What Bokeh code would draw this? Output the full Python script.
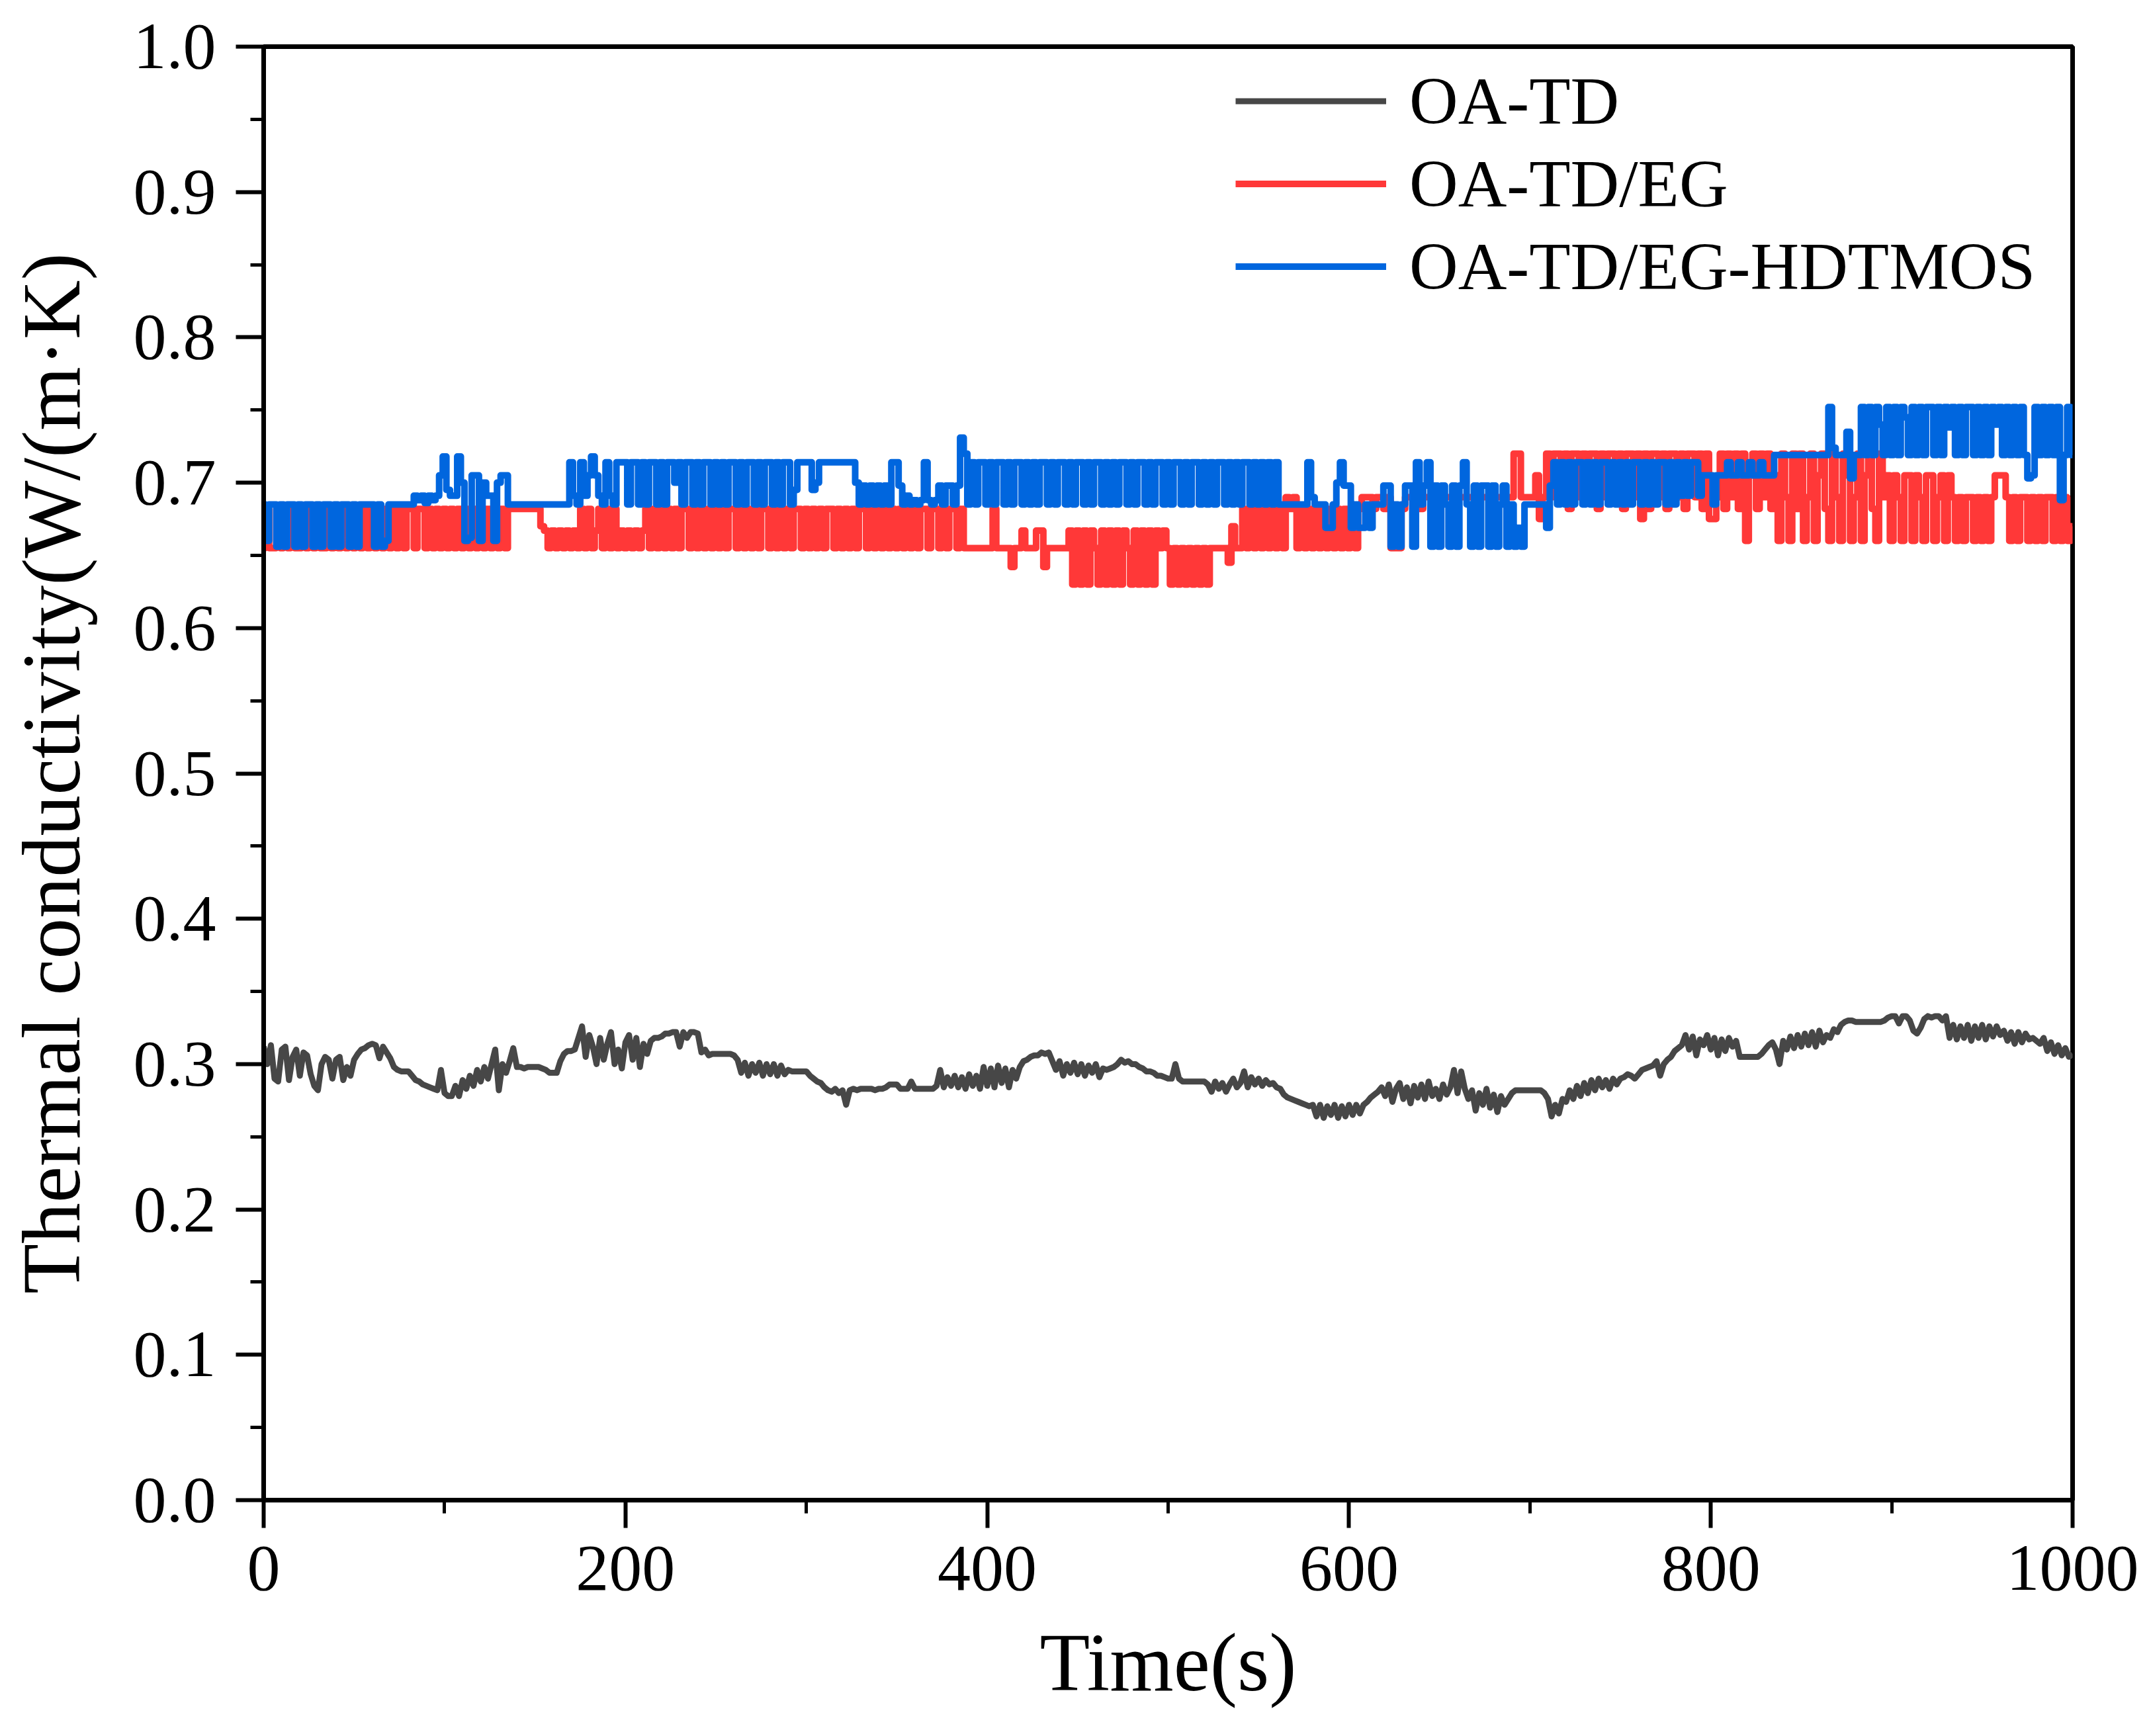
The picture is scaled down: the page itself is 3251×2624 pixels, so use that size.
from bokeh.plotting import figure
from bokeh.models import Range1d, FixedTicker, NumeralTickFormatter, Legend, LegendItem
from bokeh.embed import file_html
from bokeh.resources import INLINE

x_ticks = [0, 200, 400, 600, 800, 1000]
x_minor = [100, 300, 500, 700, 900]
y_ticks = [0.0, 0.1, 0.2, 0.3, 0.4, 0.5, 0.6, 0.7, 0.8, 0.9, 1.0]
y_minor = [0.05, 0.15, 0.25, 0.35, 0.45, 0.55, 0.65, 0.75, 0.85, 0.95]
series_names = ["OA-TD", "OA-TD/EG", "OA-TD/EG-HDTMOS"]
sample_step_s = 2

oa_td_mW = [
    312, 300, 313, 290, 288, 310, 312, 289, 305, 310, 292, 308, 306, 293, 285, 282, 300, 305, 303, 290, 303, 305, 289, 298, 292,
    303, 307, 310, 311, 313, 314, 313, 304, 312, 308, 304, 298, 296, 295, 295, 295, 292, 289, 288, 286, 285, 284, 283, 282, 296,
    280, 278, 278, 285, 278, 289, 283, 292, 285, 296, 288, 298, 290, 300, 310, 282, 300, 294, 302, 311, 298, 298, 297, 298, 298,
    298, 298, 297, 296, 294, 294, 294, 302, 307, 309, 309, 310, 318, 326, 305, 320, 312, 300, 318, 303, 314, 322, 300, 310, 297,
    315, 320, 303, 318, 298, 314, 307, 316, 318, 318, 319, 321, 321, 322, 322, 312, 322, 318, 322, 322, 321, 308, 310, 306, 307,
    307, 307, 307, 307, 307, 306, 303, 294, 301, 292, 300, 294, 301, 292, 300, 293, 300, 292, 299, 293, 296, 295, 295, 295, 295,
    295, 292, 290, 288, 287, 284, 282, 281, 283, 280, 282, 272, 282, 283, 282, 283, 283, 283, 283, 282, 283, 283, 284, 286, 286,
    286, 283, 283, 283, 288, 283, 283, 283, 283, 283, 283, 285, 296, 284, 291, 285, 292, 284, 291, 283, 293, 285, 292, 283, 298,
    285, 297, 284, 299, 287, 297, 284, 296, 290, 298, 302, 303, 305, 306, 306, 308, 307, 308, 302, 296, 302, 292, 300, 294, 301,
    293, 300, 292, 299, 294, 300, 291, 297, 296, 297, 298, 300, 303, 301, 302, 300, 300, 298, 297, 295, 295, 294, 292, 292, 291,
    290, 290, 300, 290, 288, 288, 288, 288, 288, 288, 288, 286, 281, 288, 283, 287, 281, 286, 290, 284, 287, 295, 284, 291, 286,
    290, 285, 289, 286, 287, 284, 283, 279, 277, 276, 275, 274, 273, 272, 271, 272, 264, 272, 263, 271, 265, 272, 263, 271, 264,
    272, 265, 272, 266, 272, 274, 277, 279, 281, 284, 278, 286, 274, 283, 287, 276, 284, 273, 285, 277, 286, 276, 288, 278, 283,
    276, 286, 279, 284, 296, 280, 295, 283, 276, 282, 268, 280, 272, 283, 270, 279, 267, 278, 272, 276, 280, 282, 282, 282, 282,
    282, 282, 282, 282, 280, 276, 264, 272, 266, 276, 274, 282, 276, 285, 278, 287, 280, 289, 282, 290, 284, 289, 283, 290, 286,
    290, 291, 293, 292, 290, 293, 296, 297, 298, 299, 302, 292, 300, 303, 305, 309, 311, 313, 320, 310, 319, 306, 317, 313, 320,
    310, 318, 306, 317, 309, 318, 312, 316, 305, 305, 305, 305, 305, 305, 307, 310, 313, 315, 310, 300, 316, 310, 319, 311, 320,
    312, 321, 313, 322, 312, 323, 315, 320, 318, 324, 322, 327, 329, 330, 330, 329, 329, 329, 329, 329, 329, 329, 329, 330, 332,
    333, 333, 328, 333, 333, 330, 323, 321, 325, 331, 333, 332, 333, 333, 330, 333, 318, 327, 317, 326, 318, 327, 316, 326, 318,
    327, 317, 326, 319, 326, 320, 323, 316, 322, 314, 322, 315, 321, 317, 318, 316, 314, 318, 309, 315, 307, 313, 306, 311, 305,
    307,
]

oa_td_eg_mW = [
    655, 682, 655, 655, 682, 655, 682, 655, 682, 655, 655, 682, 655, 682, 655, 682, 655, 655, 682, 655, 682, 655, 682, 655, 682,
    655, 682, 655, 682, 655, 682, 655, 682, 655, 682, 655, 682, 655, 682, 655, 682, 682, 655, 682, 682, 655, 682, 655, 682, 655,
    682, 655, 682, 655, 682, 655, 682, 655, 682, 655, 682, 655, 682, 655, 682, 655, 682, 655, 682, 682, 682, 682, 682, 682, 682,
    682, 682, 670, 667, 655, 667, 655, 667, 655, 667, 655, 667, 655, 682, 655, 682, 655, 667, 682, 655, 682, 655, 682, 655, 667,
    655, 667, 655, 667, 655, 667, 682, 655, 682, 655, 682, 655, 682, 655, 682, 655, 682, 682, 655, 682, 655, 682, 655, 682, 655,
    682, 655, 682, 655, 682, 682, 655, 682, 655, 682, 655, 682, 655, 682, 682, 655, 682, 655, 682, 655, 682, 655, 682, 682, 655,
    682, 655, 682, 655, 682, 655, 682, 682, 655, 682, 655, 682, 655, 682, 655, 682, 682, 655, 682, 655, 682, 655, 682, 655, 682,
    655, 682, 655, 682, 655, 682, 655, 682, 682, 655, 682, 682, 655, 682, 655, 682, 682, 655, 682, 655, 655, 655, 655, 655, 655,
    655, 655, 682, 655, 655, 655, 655, 642, 655, 655, 667, 655, 655, 655, 667, 667, 642, 655, 655, 655, 655, 655, 655, 667, 630,
    667, 630, 667, 630, 667, 655, 630, 667, 630, 667, 630, 667, 630, 667, 655, 630, 667, 630, 667, 630, 667, 630, 667, 655, 667,
    655, 630, 655, 630, 655, 630, 655, 630, 655, 630, 655, 630, 655, 655, 655, 655, 655, 645, 670, 655, 655, 682, 655, 682, 655,
    682, 655, 682, 655, 682, 655, 682, 655, 690, 682, 690, 655, 682, 655, 682, 655, 682, 655, 682, 655, 682, 655, 682, 655, 682,
    655, 682, 655, 682, 690, 690, 690, 682, 690, 690, 682, 690, 655, 655, 655, 682, 690, 690, 690, 690, 682, 690, 690, 690, 690,
    690, 690, 690, 690, 690, 690, 690, 690, 690, 690, 690, 690, 690, 690, 690, 690, 690, 690, 690, 690, 690, 720, 720, 690, 690,
    690, 690, 705, 675, 690, 720, 690, 720, 720, 690, 720, 682, 720, 720, 690, 720, 690, 720, 720, 682, 720, 690, 720, 720, 690,
    720, 682, 720, 720, 690, 720, 675, 720, 682, 720, 720, 690, 720, 682, 720, 720, 690, 720, 682, 720, 720, 690, 720, 682, 720,
    675, 675, 690, 720, 682, 720, 690, 720, 682, 720, 660, 705, 720, 682, 720, 690, 720, 682, 705, 660, 720, 690, 660, 720, 682,
    720, 660, 690, 720, 660, 705, 720, 682, 660, 720, 690, 660, 720, 705, 660, 690, 720, 660, 705, 720, 682, 660, 720, 690, 705,
    660, 705, 690, 660, 705, 705, 660, 705, 690, 660, 705, 705, 660, 690, 705, 660, 705, 690, 660, 690, 660, 690, 690, 660, 690,
    660, 690, 660, 690, 705, 705, 705, 690, 660, 690, 660, 690, 690, 660, 690, 660, 690, 660, 690, 690, 660, 690, 660, 690, 660,
    670,
]

oa_td_eg_hdtmos_mW = [
    685, 660, 685, 685, 656, 685, 656, 685, 685, 656, 685, 656, 685, 685, 656, 685, 656, 685, 685, 656, 685, 656, 685, 685, 656,
    685, 656, 685, 685, 685, 685, 656, 685, 656, 660, 685, 685, 685, 685, 685, 685, 685, 691, 688, 691, 686, 691, 688, 691, 705,
    718, 695, 691, 691, 718, 700, 660, 662, 705, 705, 660, 700, 691, 691, 660, 700, 705, 705, 685, 685, 685, 685, 685, 685, 685,
    685, 685, 685, 685, 685, 685, 685, 685, 685, 685, 714, 691, 685, 714, 691, 705, 718, 705, 691, 685, 714, 691, 685, 714, 714,
    714, 685, 714, 714, 685, 714, 685, 714, 714, 685, 714, 685, 714, 714, 700, 714, 685, 714, 714, 685, 714, 685, 714, 714, 685,
    714, 685, 714, 685, 714, 714, 685, 714, 685, 714, 714, 685, 714, 685, 714, 714, 685, 714, 685, 714, 714, 685, 695, 714, 714,
    714, 714, 695, 700, 714, 714, 714, 714, 714, 714, 714, 714, 714, 714, 700, 685, 698, 685, 698, 685, 698, 685, 698, 685, 714,
    714, 698, 685, 691, 685, 688, 685, 688, 714, 688, 685, 688, 698, 685, 698, 698, 685, 698, 731, 720, 685, 714, 685, 714, 714,
    685, 714, 685, 714, 714, 685, 714, 685, 714, 714, 685, 714, 685, 714, 685, 714, 714, 685, 714, 685, 714, 714, 685, 714, 685,
    714, 714, 685, 714, 685, 714, 714, 685, 714, 685, 714, 685, 714, 714, 685, 714, 685, 714, 714, 685, 714, 685, 714, 714, 685,
    714, 685, 714, 714, 685, 714, 685, 714, 714, 685, 714, 685, 714, 685, 714, 714, 685, 714, 685, 714, 685, 714, 714, 685, 714,
    685, 714, 685, 714, 685, 714, 685, 685, 685, 685, 685, 685, 685, 685, 714, 690, 685, 685, 685, 669, 669, 685, 700, 714, 698,
    698, 669, 685, 669, 669, 685, 669, 685, 685, 685, 698, 698, 656, 685, 656, 685, 698, 698, 656, 714, 685, 698, 714, 656, 698,
    656, 698, 685, 656, 698, 656, 698, 714, 685, 656, 698, 656, 698, 698, 656, 698, 656, 685, 698, 656, 685, 656, 669, 656, 685,
    685, 685, 685, 685, 685, 669, 698, 714, 685, 714, 685, 714, 685, 714, 714, 685, 714, 685, 714, 685, 714, 714, 685, 714, 685,
    714, 685, 714, 685, 714, 714, 685, 714, 685, 714, 685, 714, 714, 685, 714, 685, 714, 691, 714, 691, 714, 714, 691, 705, 705,
    705, 685, 705, 705, 705, 714, 705, 705, 714, 705, 705, 714, 705, 705, 714, 705, 705, 705, 719, 719, 719, 719, 719, 719, 719,
    719, 719, 719, 719, 719, 719, 719, 719, 752, 724, 719, 719, 719, 735, 703, 719, 719, 752, 719, 752, 719, 752, 740, 719, 752,
    719, 752, 719, 752, 745, 719, 752, 719, 752, 719, 752, 752, 719, 752, 719, 752, 738, 752, 719, 752, 719, 752, 752, 719, 752,
    719, 752, 719, 752, 740, 752, 719, 752, 719, 752, 719, 752, 719, 703, 705, 752, 719, 752, 719, 752, 719, 752, 688, 719, 752,
    719,
]

colors = ["#474747", "#FF3838", "#0066DE"]

# ---------------- figure ----------------
W, H = 3240, 2624
p = figure(width=W, height=H, output_backend="svg", toolbar_location=None,
           x_range=Range1d(0, 1000), y_range=Range1d(0, 1),
           min_border_left=398, min_border_right=108, min_border_top=70, min_border_bottom=357)
p.xgrid.visible = False
p.ygrid.visible = False
p.background_fill_color = "white"
p.border_fill_color = "white"
p.outline_line_color = "black"
p.outline_line_width = 7

FONT = "Liberation Serif"
for ax in (p.xaxis[0], p.yaxis[0]):
    ax.axis_line_width = 7
    ax.axis_line_color = "black"
    ax.major_tick_line_width = 6
    ax.minor_tick_line_width = 5
    ax.major_tick_in = 0
    ax.major_tick_out = 42
    ax.minor_tick_in = 0
    ax.minor_tick_out = 20
    ax.major_label_text_font = FONT
    ax.major_label_text_font_size = "100px"
    ax.major_label_text_color = "black"
    ax.axis_label_text_font = FONT
    ax.axis_label_text_font_size = "124px"
    ax.axis_label_text_font_style = "normal"
    ax.axis_label_text_color = "black"

p.xaxis[0].ticker = FixedTicker(ticks=x_ticks, minor_ticks=x_minor)
p.yaxis[0].ticker = FixedTicker(ticks=y_ticks, minor_ticks=y_minor)
p.yaxis[0].formatter = NumeralTickFormatter(format="0.0")
p.xaxis[0].major_label_standoff = 28
p.yaxis[0].major_label_standoff = 30
p.xaxis[0].axis_label = "Time(s)"
p.xaxis[0].axis_label_standoff = 39
p.yaxis[0].axis_label = "Thermal conductivity(W/(m·K)"
p.yaxis[0].axis_label_standoff = 52

renderers = []
for i, (vals, c) in enumerate(zip([oa_td_mW, oa_td_eg_mW, oa_td_eg_hdtmos_mW], colors)):
    t = [sample_step_s * k for k in range(len(vals))]
    y = [v / 1000.0 for v in vals]
    if i == 0:
        r = p.line(t, y, line_color=c, line_width=9, line_join="round")
    else:
        r = p.step(t, y, mode="center", line_color=c, line_width=10, line_join="round")
    renderers.append(r)

legend = Legend(items=[LegendItem(label=n, renderers=[r]) for n, r in zip(series_names, renderers)],
                location=(1469, 1802), orientation="vertical",
                border_line_alpha=0, background_fill_alpha=0,
                padding=0, margin=0, spacing=0,
                glyph_width=228, glyph_height=125, label_height=125, label_standoff=35,
                label_text_font=FONT, label_text_font_size="102px", label_text_color="black")
p.add_layout(legend)

open("out.html", "w").write(file_html(p, INLINE))
